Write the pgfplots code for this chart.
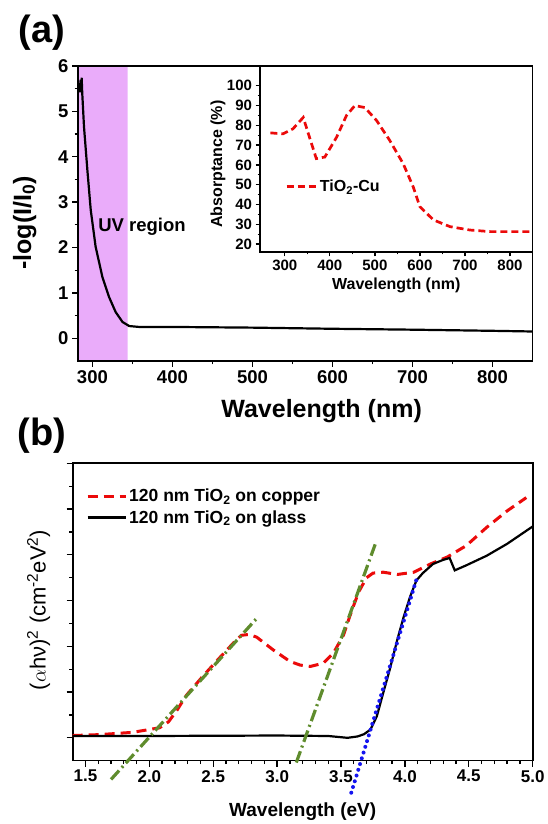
\documentclass[border=0pt]{standalone}
\usepackage{fontspec}
\setmainfont{Liberation Sans}
\usepackage{pgfplots}
\pgfplotsset{compat=1.18}

\definecolor{uvfill}{RGB}{234,172,250}
\definecolor{myred}{RGB}{235,10,10}
\definecolor{mygreen}{RGB}{95,140,45}
\definecolor{myblue}{RGB}{20,20,240}
\newcommand{\fs}[1]{\fontsize{#1}{#1}\selectfont}

\pgfplotsset{
  mystyle/.style={
    scale only axis,
    axis line style={line width=1.6pt},
    tick style={line width=1.3pt, black},
    tick align=outside,
    tick pos=left,
    major tick length=6pt,
    minor tick length=3.5pt,
    /pgf/number format/assume math mode=true,
  }
}

\begin{document}
\begin{tikzpicture}
\path[use as bounding box] (0pt,0pt) rectangle (548pt,824pt);
\node[font=\bfseries\fs{38}] at (42pt,791pt) {(a)};
\node[font=\bfseries\fs{38}] at (42pt,388pt) {(b)};

% ---------------- (a) main ----------------
\begin{axis}[mystyle,
  at={(78pt,463pt)}, anchor=south west,
  width=454.5pt, height=295pt,
  xmin=282, xmax=850, ymin=-0.5, ymax=6,
  xtick={300,400,500,600,700,800},
  ytick={0,1,2,3,4,5,6},
  minor x tick num=1, minor y tick num=1,
  tick label style={font=\bfseries\fs{18.5}},
  xlabel={Wavelength (nm)},
  xlabel style={font=\bfseries\fs{25}, at={(axis description cs:0.536,-0.17)}, anchor=center},
  ylabel={-log(I/I\textsubscript{0})},
  ylabel style={font=\bfseries\fs{25}, at={(axis description cs:-0.117,0.468)}, anchor=center},
  axis on top]
\addplot[fill=uvfill, draw=none] coordinates {(282,-0.5) (344,-0.5) (344,6) (282,6)} \closedcycle;
\addplot[black, line width=2.2pt] coordinates {
(283,5.45) (284,5.62) (284.7,5.42) (285.3,5.7) (286,5.5) (286.6,5.74) (287.3,5.4)
(289.5,4.66) (293.7,3.71) (297.9,2.83) (304,2.02) (312.5,1.35) (320.8,0.91)
(329,0.58) (337.6,0.36) (346,0.27) (358.5,0.25) (400,0.25) (500,0.235)
(600,0.21) (700,0.19) (800,0.165) (850,0.15)};
\node[font=\bfseries\fs{18.5}] at (axis cs:362,2.45) {UV region};
\end{axis}

% ---------------- (a) inset ----------------
\begin{axis}[mystyle,
  at={(260pt,572pt)}, anchor=south west,
  width=272.5pt, height=186pt,
  xmin=245, xmax=850, ymin=16, ymax=110,
  xtick={300,400,500,600,700,800},
  ytick={20,30,40,50,60,70,80,90,100},
  minor x tick num=1, minor y tick num=1,
  major tick length=4.5pt, minor tick length=2.5pt,
  tick label style={font=\bfseries\fs{15}},
  xlabel={Wavelength (nm)},
  xlabel style={font=\bfseries\fs{16}, at={(axis description cs:0.5,-0.177)}, anchor=center},
  ylabel={Absorptance (\%)},
  ylabel style={font=\bfseries\fs{16}, at={(axis description cs:-0.154,0.473)}, anchor=center},
  legend style={at={(axis description cs:0.092,0.351)}, anchor=west, draw=none, fill=none,
    inner sep=0pt, font=\bfseries\fs{16}},
  legend image code/.code={\draw[#1] (0pt,0pt) -- (30pt,0pt);}]
\addplot[myred, line width=2.7pt, dash pattern=on 7pt off 4pt] coordinates {
(268,76.2) (296,75.7) (318,78.2) (341,84) (356,73.2) (370,63.2) (389,64)
(415,74) (437,85) (455.6,90) (477.8,89) (504,82.4) (533,72.4) (563,60.6)
(585,49) (600,38.9) (630,32.2) (667,28.8) (711,27.1) (756,26.3) (850,26.3)};
\addlegendentry{TiO\textsubscript{2}-Cu}
\end{axis}

% ---------------- (b) ----------------
\begin{axis}[mystyle,
  at={(72.7pt,63.3pt)}, anchor=south west,
  width=460pt, height=297.4pt,
  xmin=1.4, xmax=5.0, ymin=-0.5, ymax=6,
  xtick={1.5,2.0,2.5,3.0,3.5,4.0,4.5,5.0},
  ytick={0,1,2,3,4,5,6}, yticklabels={},
  minor x tick num=4, minor y tick num=1,
  clip=false,
  xticklabel style={/pgf/number format/.cd, fixed, fixed zerofill, precision=1},
  tick label style={font=\bfseries\fs{17}},
  xlabel={Wavelength (eV)},
  xlabel style={font=\bfseries\fs{19}, at={(axis description cs:0.5,-0.172)}, anchor=center},
  ylabel={($\alpha$hν)\textsuperscript{2} (cm\textsuperscript{-2}eV\textsuperscript{2})},
  ylabel style={font=\fs{22}, at={(axis description cs:-0.074,0.507)}, anchor=center},
  legend style={at={(axis description cs:0.029,0.925)}, anchor=north west, draw=none, fill=none,
    inner sep=0pt, font=\bfseries\fs{17.5}, nodes={inner ysep=3.5pt}},
  legend cell align=left,
  legend image code/.code={\draw[#1] (0pt,0pt) -- (38pt,0pt);}]
\addplot[myred, line width=3pt, dash pattern=on 10pt off 6pt] coordinates {
(1.40,0.05) (1.61,0.07) (1.87,0.12) (2.08,0.22) (2.15,0.35) (2.22,0.62) (2.29,0.93)
(2.42,1.35) (2.55,1.75) (2.66,2.08) (2.72,2.24) (2.78,2.26) (2.84,2.2) (2.97,1.92)
(3.10,1.67) (3.18,1.59) (3.26,1.56) (3.36,1.63) (3.44,1.85) (3.52,2.25) (3.58,2.75)
(3.64,3.2) (3.70,3.5) (3.75,3.6) (3.83,3.62) (3.94,3.57) (4.07,3.62) (4.20,3.80)
(4.33,3.95) (4.48,4.20) (4.64,4.60) (4.80,4.96) (4.95,5.25)};
\addlegendentry{120 nm TiO\textsubscript{2} on copper}
\addplot[black, line width=2.2pt] coordinates {
(1.40,0.04) (2.0,0.04) (3.0,0.05) (3.4,0.04) (3.55,0.0) (3.63,0.03) (3.68,0.08)
(3.73,0.18) (3.78,0.47) (3.83,0.98) (3.88,1.48) (3.94,2.14) (3.99,2.64) (4.04,3.08)
(4.09,3.44) (4.14,3.60) (4.22,3.80) (4.30,3.89) (4.35,3.93) (4.39,3.66) (4.48,3.77)
(4.64,3.98) (4.80,4.24) (5.0,4.62)};
\addlegendentry{120 nm TiO\textsubscript{2} on glass}
\addplot[mygreen, line width=3.2pt, dash pattern=on 12pt off 4pt on 2pt off 4pt, forget plot]
  coordinates {(1.70,-0.91) (2.84,2.61)};
\addplot[mygreen, line width=3.2pt, dash pattern=on 12pt off 4pt on 2pt off 4pt, forget plot]
  coordinates {(3.15,-0.54) (3.77,4.25)};
\addplot[myblue, line width=4pt, line cap=round, dash pattern=on 0pt off 6pt, forget plot]
  coordinates {(3.58,-1.2) (4.10,3.55)};
\end{axis}
\end{tikzpicture}
\end{document}
